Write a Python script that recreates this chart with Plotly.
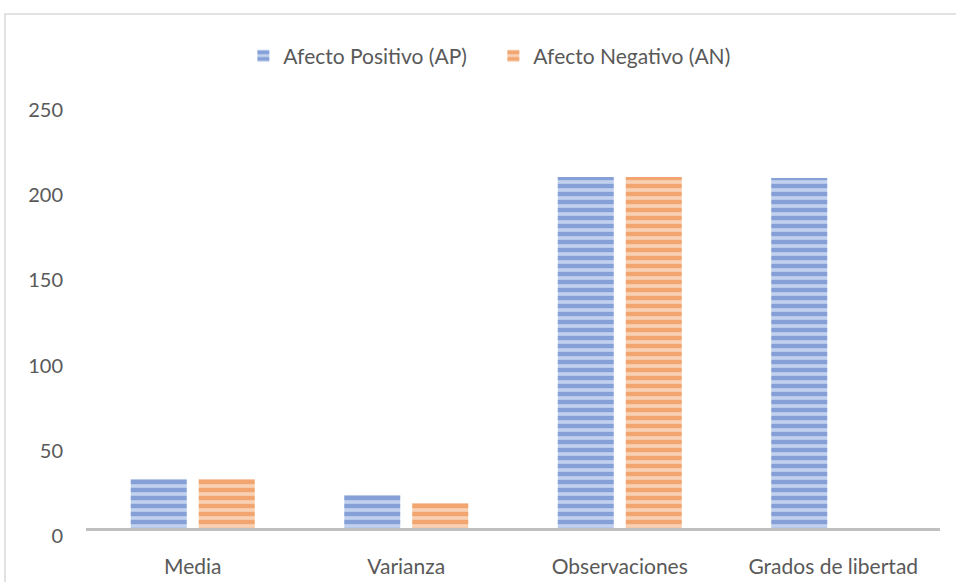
import plotly.graph_objects as go

categories = ["Media", "Varianza", "Observaciones", "Grados de libertad"]
ap_values = [28.8, 19.4, 206, 205.4]
an_values = [28.8, 14.7, 206, 0]
y_ticks = [0, 50, 100, 150, 200, 250]

FONT = "Lato"
TXT = "#595959"

fig = go.Figure()
fig.add_trace(go.Bar(
    name="Afecto Positivo (AP)", x=categories, y=ap_values,
    marker=dict(color="#c5d3ef", line=dict(width=0),
                pattern=dict(shape="-", fgcolor="#4670c0", bgcolor="#c3d1ee",
                             size=8, solidity=0.55, fillmode="overlay")),
))
fig.add_trace(go.Bar(
    name="Afecto Negativo (AN)", x=categories, y=an_values,
    marker=dict(color="#f8d2b6", line=dict(width=0),
                pattern=dict(shape="-", fgcolor="#eb7a2e", bgcolor="#f8d1b5",
                             size=8, solidity=0.55, fillmode="overlay")),
))

fig.update_layout(
    width=956, height=582,
    margin=dict(l=86, r=16, t=102, b=54),
    paper_bgcolor="white", plot_bgcolor="white",
    barmode="group", bargap=0.363, bargroupgap=0.176,
    font=dict(family=FONT, size=21, color=TXT),
    showlegend=True,
    legend=dict(orientation="h", x=0.477, xanchor="center", y=1.108, yanchor="middle",
                font=dict(family=FONT, size=21, color=TXT), itemwidth=30,
                entrywidth=205, bgcolor="rgba(0,0,0,0)"),
    xaxis=dict(showgrid=False, showline=True, linecolor="#bfbfbf", linewidth=3,
               automargin=False, ticks="", ticklabelstandoff=18,
               tickfont=dict(family=FONT, size=21, color=TXT)),
    yaxis=dict(range=[0, 250], tickvals=y_ticks, showgrid=False, showline=False,
               automargin=False, zeroline=False, ticks="", ticklabelstandoff=22,
               ticklabelshift=8, tickfont=dict(family=FONT, size=20, color=TXT)),
    shapes=[dict(type="rect", xref="paper", yref="paper",
                 x0=(5 - 86) / 854, x1=1.2, y0=-0.3, y1=(528 - 14) / 426,
                 line=dict(color="#d9d9d9", width=1.5), layer="below")],
)

fig.write_html("out.html", config={"displayModeBar": False},
               post_script="document.body.style.margin='0';document.body.style.overflow='hidden';")
